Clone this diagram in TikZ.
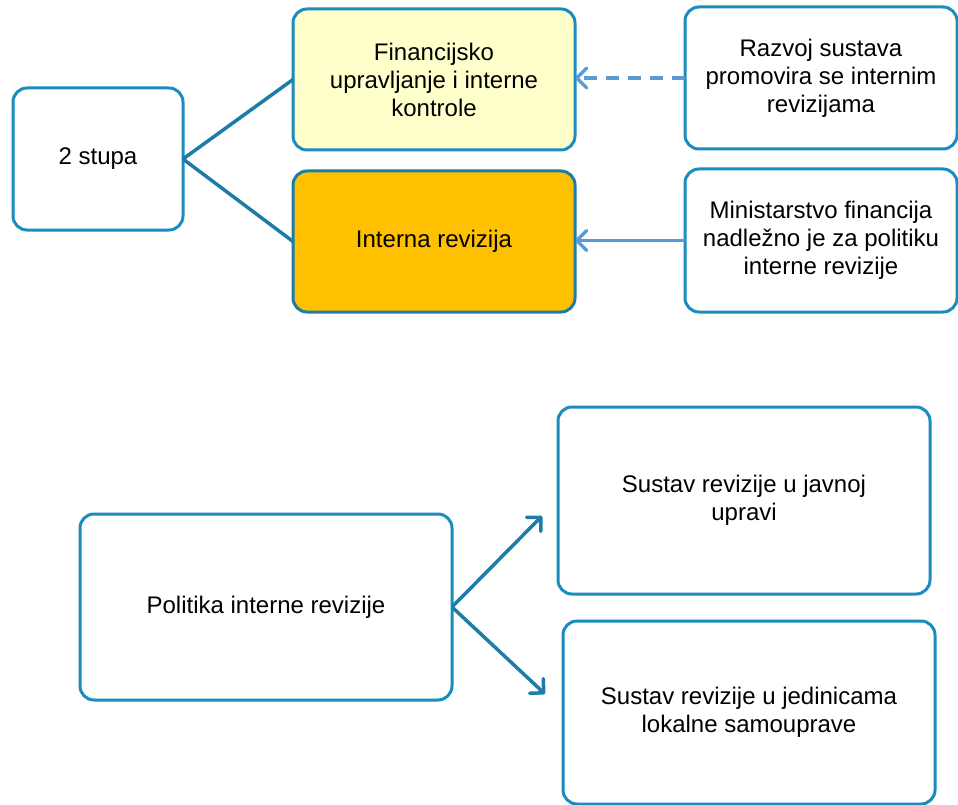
\documentclass[tikz,border=0pt]{standalone}
\usepackage{fontspec}
\setmainfont{Liberation Sans}
\usetikzlibrary{arrows.meta}
\definecolor{boxblue}{HTML}{1B8CBE}
\definecolor{linkblue}{HTML}{1D7DA8}
\definecolor{arrowblue}{HTML}{5B9BD5}
\definecolor{paleyellow}{HTML}{FFFFCC}
\definecolor{gold}{HTML}{FFC000}
\begin{document}
\begin{tikzpicture}[x=1pt, y=-1pt,
        every node/.style={draw=boxblue, line width=3pt, rounded corners=14pt, fill=white, align=center, inner sep=0pt, outer sep=0pt, font=\fontsize{24}{28}\selectfont},
        link/.style={draw=linkblue, line width=3.5pt},
        outarrow/.style={link, -{Straight Barb[length=10pt, width=20pt, round]}},
        inarrow/.style={draw=arrowblue, line width=3.5pt, -{Straight Barb[length=10pt, width=20pt, round]}}]
            \useasboundingbox (0,0) rectangle (958,805);
            \node[minimum width=170pt, minimum height=142pt] (stupa) at (98, 159) {2 stupa};
            \node[fill=paleyellow, minimum width=282pt, minimum height=141pt] (finance) at (434, 79.5) {Financijsko\\upravljanje i interne\\kontrole};
            \node[fill=gold, draw=linkblue, minimum width=282pt, minimum height=141pt] (interna) at (434, 241.5) {Interna revizija};
            \node[minimum width=272pt, minimum height=142pt] (razvoj) at (821, 78) {Razvoj sustava\\promovira se internim\\revizijama};
            \node[minimum width=272pt, minimum height=143pt] (ministarstvo) at (821, 240.5) {Ministarstvo financija\\nadležno je za politiku\\interne revizije};
            \node[minimum width=372pt, minimum height=186pt] (politika) at (266, 607) {Politika interne revizije};
            \node[minimum width=372pt, minimum height=187pt] (javna) at (744, 500.5) {Sustav revizije u javnoj\\upravi};
            \node[minimum width=372pt, minimum height=183pt] (lokalna) at (749, 712.5) {Sustav revizije u jedinicama\\lokalne samouprave};
            \coordinate (tipjavna) at (542, 516);
            \coordinate (tiplokalna) at (545, 694);
            \draw[link] (stupa.east) -- (finance.west);
            \draw[link] (stupa.east) -- (interna.west);
            \draw[inarrow, dash pattern=on 13pt off 9pt] (razvoj.west) -- (finance.east |- razvoj.west);
            \draw[inarrow] (ministarstvo.west) -- (interna.east |- ministarstvo.west);
            \draw[outarrow] (politika.east) -- (tipjavna);
            \draw[outarrow] (politika.east) -- (tiplokalna);
        \end{tikzpicture}
\end{document}
